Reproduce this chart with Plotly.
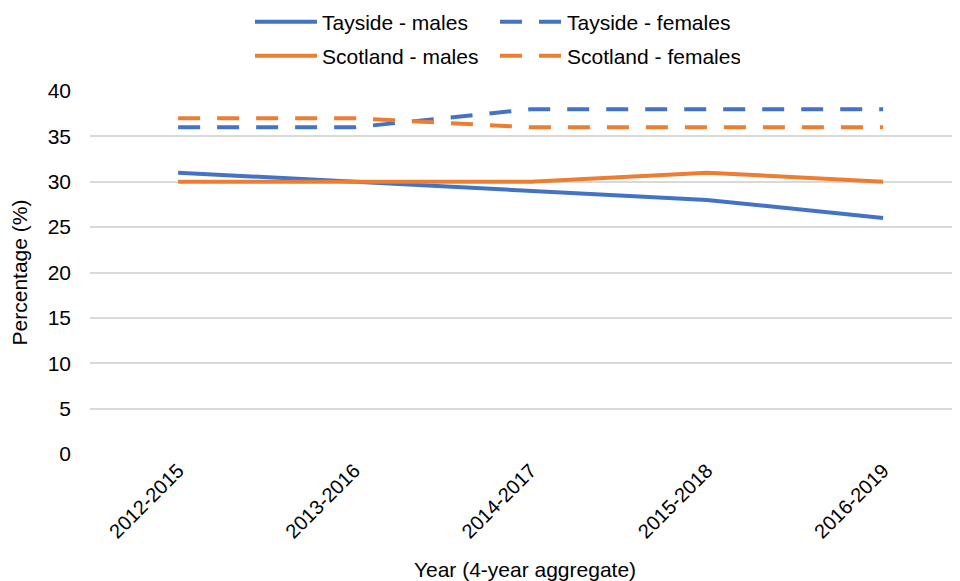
import plotly.graph_objects as go

categories = ["2012-2015", "2013-2016", "2014-2017", "2015-2018", "2016-2019"]
tayside_males = [31, 30, 29, 28, 26]
tayside_females = [36, 36, 38, 38, 38]
scotland_males = [30, 30, 30, 31, 30]
scotland_females = [37, 37, 36, 36, 36]
y_ticks = [0, 5, 10, 15, 20, 25, 30, 35, 40]

BLUE = "#4472C4"
ORANGE = "#ED7D31"
DASH = "22px,17px"
W = 4

fig = go.Figure()
fig.add_trace(go.Scatter(x=categories, y=tayside_males, mode="lines", name="Tayside - males",
                         line=dict(color=BLUE, width=W), legend="legend"))
fig.add_trace(go.Scatter(x=categories, y=tayside_females, mode="lines", name="Tayside - females",
                         line=dict(color=BLUE, width=W, dash=DASH), legend="legend"))
fig.add_trace(go.Scatter(x=categories, y=scotland_males, mode="lines", name="Scotland - males",
                         line=dict(color=ORANGE, width=W), legend="legend2"))
fig.add_trace(go.Scatter(x=categories, y=scotland_females, mode="lines", name="Scotland - females",
                         line=dict(color=ORANGE, width=W, dash=DASH), legend="legend2"))

FAM = "Liberation Sans, Arial, sans-serif"
FW, FH = 952, 573  # page body has an 8px margin
font = dict(family=FAM, size=20, color="#000000")
legend_common = dict(orientation="h", xref="container", yref="container", xanchor="left",
                     yanchor="middle", font=dict(family=FAM, size=21, color="#000"),
                     entrywidth=168, itemwidth=62, bgcolor="rgba(0,0,0,0)", traceorder="normal")

fig.update_layout(
    width=FW, height=FH,
    margin=dict(l=82, r=0, t=83, b=127, autoexpand=False),
    paper_bgcolor="white", plot_bgcolor="white",
    font=font,
    legend=dict(x=242 / FW, y=1 - 14 / FH, **legend_common),
    legend2=dict(x=242 / FW, y=1 - 48 / FH, **legend_common),
    xaxis=dict(type="category", range=[-0.5, 4.436], showgrid=False, zeroline=False,
               showline=False, ticks="", tickangle=-45, tickfont=dict(size=20),
               automargin=False,
               title=dict(text="Year (4-year aggregate)", font=dict(size=21), standoff=22)),
    yaxis=dict(range=[0, 40], tickvals=y_ticks, showgrid=True, gridcolor="#d9d9d9", gridwidth=1.5,
               zeroline=False, showline=False, ticks="", ticklabelstandoff=18,
               tickfont=dict(size=21), automargin=False,
               title=dict(text="Percentage (%)", font=dict(size=21), standoff=14)),
)

fig.write_html("out.html")
